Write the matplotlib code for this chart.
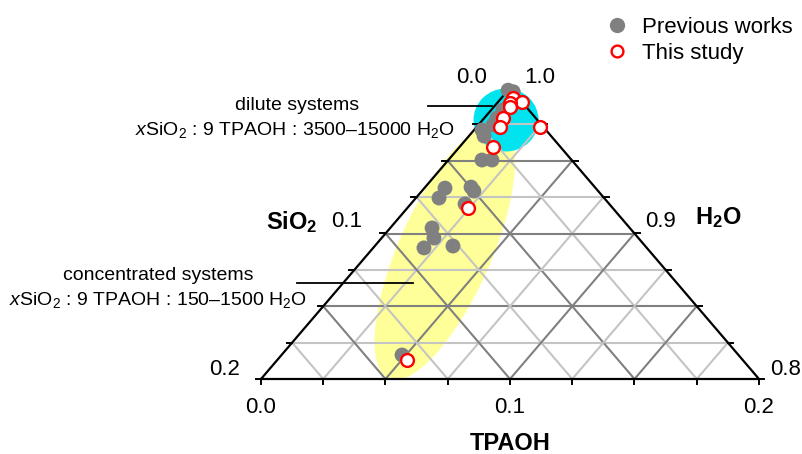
import numpy as np
import matplotlib.pyplot as plt
from matplotlib.patches import Ellipse
from matplotlib.lines import Line2D

plt.rcParams['font.family'] = ['Liberation Sans', 'DejaVu Sans']
plt.rcParams['mathtext.fontset'] = 'custom'
plt.rcParams['mathtext.rm'] = 'Liberation Sans'
plt.rcParams['mathtext.it'] = 'Liberation Sans:italic'
plt.rcParams['mathtext.bf'] = 'Liberation Sans:bold'

# mole fractions of the synthesis gels
prev_sio2 = [0.0015, 0.0000, 0.0104, 0.0155, 0.0195, 0.0257, 0.0269, 0.0360, 0.0320, 0.0605,
             0.0663, 0.0497, 0.0499, 0.0579, 0.0794, 0.0821, 0.0895, 0.0772, 0.1351]
prev_tpaoh = [0.0000, 0.0026, 0.0047, 0.0051, 0.0059, 0.0032, 0.0061, 0.0135, 0.0175, 0.0083,
              0.0093, 0.0184, 0.0209, 0.0218, 0.0168, 0.0210, 0.0204, 0.0314, 0.0484]
prev_h2o = [0.9985, 0.9974, 0.9849, 0.9794, 0.9746, 0.9711, 0.9670, 0.9505, 0.9505, 0.9312,
            0.9244, 0.9319, 0.9292, 0.9203, 0.9038, 0.8969, 0.8901, 0.8914, 0.8165]

study_sio2 = [0.0022, 0.0000, 0.0051, 0.0065, 0.0131, 0.0174, 0.0014, 0.0271, 0.0581, 0.1348]
study_tpaoh = [0.0046, 0.0096, 0.0052, 0.0065, 0.0075, 0.0094, 0.0254, 0.0134, 0.0244, 0.0521]
study_h2o = [0.9932, 0.9904, 0.9897, 0.9870, 0.9794, 0.9732, 0.9732, 0.9595, 0.9175, 0.8131]

bottom_ticks = ['0.0', '0.1', '0.2']
left_ticks = ['0.0', '0.1', '0.2']
right_ticks = ['1.0', '0.9', '0.8']

# only the water-rich corner is shown: H2O from 0.8 to 1.0
W_MIN = 0.8
SPAN = 0.2
H = 291 / 498   # height / base of the drawn triangle
NDIV = 8


def tern(s, t, w):
    s, t, w = (np.asarray(v, dtype=float) for v in (s, t, w))
    b = t / SPAN
    c = (w - W_MIN) / SPAN
    return b + c / 2, c * H


fig = plt.figure(figsize=(8.02, 4.54), dpi=100)
ax = fig.add_axes([0, 0, 1, 1])
ax.set_xlim(-261 / 498, 541 / 498)
ax.set_ylim(-75 / 498, 379 / 498)
ax.axis('off')

# shaded regions
ax.add_patch(Ellipse((0.3690, 0.2550), 0.556, 0.186, angle=66.1,
                     facecolor='#ffff99', edgecolor='none', zorder=1))
ax.add_patch(Ellipse((0.4920, 0.5201), 0.1305, 0.1265,
                     facecolor='#00e4f0', edgecolor='none', zorder=1.5))

# grid
for k in range(1, NDIV):
    f = k / NDIV
    col = '#808080' if k % 2 == 0 else '#c4c4c4'
    # constant H2O
    x, y = tern([SPAN * (1 - f), 0], [0, SPAN * (1 - f)], [W_MIN + SPAN * f] * 2)
    ax.plot(x, y, color=col, lw=1.5, zorder=2)
    # constant TPAOH
    x, y = tern([SPAN * (1 - f), 0], [SPAN * f] * 2, [W_MIN, W_MIN + SPAN * (1 - f)])
    ax.plot(x, y, color=col, lw=1.5, zorder=2)
    # constant SiO2
    x, y = tern([SPAN * f] * 2, [SPAN * (1 - f), 0], [W_MIN, W_MIN + SPAN * (1 - f)])
    ax.plot(x, y, color=col, lw=1.5, zorder=2)

# outline
x, y = tern([SPAN, 0, 0, SPAN], [0, SPAN, 0, 0], [W_MIN, W_MIN, 1, W_MIN])
ax.plot(x, y, color='black', lw=1.6, zorder=3, solid_joinstyle='miter')

# ticks
tl = 0.011
for k in range(NDIV + 1):
    f = k / NDIV
    ax.plot([f, f], [0, -tl], color='black', lw=1.4, zorder=3)
    ax.plot([f / 2, f / 2 - tl], [f * H, f * H], color='black', lw=1.4, zorder=3)
    ax.plot([1 - f / 2, 1 - f / 2 + tl], [f * H, f * H], color='black', lw=1.4, zorder=3)

fs = 16
for lab, xx in zip(bottom_ticks, [0, 0.5, 1]):
    ax.text(xx, -0.0582, lab, ha='center', va='center', fontsize=fs)
ax.text(0.4237, 0.6064, left_ticks[0], ha='center', va='center', fontsize=fs)
ax.text(0.1727, 0.3153, left_ticks[1], ha='center', va='center', fontsize=fs)
ax.text(-0.0723, 0.0181, left_ticks[2], ha='center', va='center', fontsize=fs)
ax.text(0.5602, 0.6064, right_ticks[0], ha='center', va='center', fontsize=fs)
ax.text(0.8032, 0.3153, right_ticks[1], ha='center', va='center', fontsize=fs)
ax.text(1.0542, 0.0181, right_ticks[2], ha='center', va='center', fontsize=fs)

ax.text(0.5, -0.1305, 'TPAOH', ha='center', va='center', fontsize=17, fontweight='bold')
ax.text(0.0622, 0.3153, r'$\mathbf{SiO_2}$', ha='center', va='center', fontsize=17)
ax.text(0.9177, 0.3233, r'$\mathbf{H_2O}$', ha='center', va='center', fontsize=17)

# region labels
ax.plot([0.3353, 0.4639], [0.5482, 0.5482], color='black', lw=1.3, zorder=4)
ax.text(0.0723, 0.5502, 'dilute systems', ha='center', va='center', fontsize=14)
ax.text(0.0683, 0.5000, r'$x$SiO$_2$ : 9 TPAOH : 3500–15000 H$_2$O',
        ha='center', va='center', fontsize=14)
ax.plot([0.0723, 0.3052], [0.1928, 0.1928], color='black', lw=1.3, zorder=4)
ax.text(-0.2068, 0.2088, 'concentrated systems', ha='center', va='center', fontsize=14)
ax.text(0.0924, 0.1586, r'$x$SiO$_2$ : 9 TPAOH : 150–1500 H$_2$O',
        ha='right', va='center', fontsize=14)

# data
x, y = tern(prev_sio2, prev_tpaoh, prev_h2o)
ax.scatter(x, y, s=115, color='#808080', edgecolors='none', zorder=5)
x, y = tern(study_sio2, study_tpaoh, study_h2o)
ax.scatter(x, y, s=85, facecolors='white', edgecolors='red', linewidths=1.7, zorder=6)

handles = [Line2D([], [], ls='', marker='o', ms=11, color='#808080', mec='none'),
           Line2D([], [], ls='', marker='o', ms=8.5, mfc='white', mec='red', mew=1.7)]
fig.legend(handles, ['Previous works', 'This study'], loc='upper left',
           bbox_to_anchor=(606 / 802, 1 - 17 / 454), frameon=False, fontsize=16,
           handlelength=1.0, handletextpad=0.64, labelspacing=0.22,
           borderpad=0, borderaxespad=0)

fig.savefig('out.png', dpi=100)
